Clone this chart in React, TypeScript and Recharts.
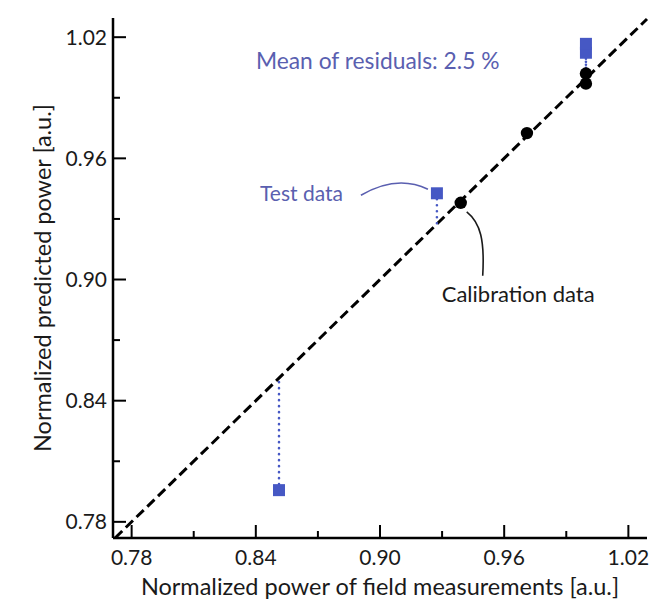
import React from 'react';
import { ScatterChart, Scatter, XAxis, YAxis, ReferenceLine } from 'recharts';

// ---- data ----
const tickValues = [0.78, 0.81, 0.84, 0.87, 0.9, 0.93, 0.96, 0.99, 1.02];
const xDomain = [0.771, 1.029];
const yDomain = [0.772, 1.0295];
const identityRange = [0.772, 1.029];

const calibrationX = [0.939, 0.971, 0.9995, 0.9995];
const calibrationY = [0.938, 0.9725, 0.997, 1.002];

const testX = [0.9275, 0.8512, 0.9995, 0.9995];
const testY = [0.9427, 0.7957, 1.0123, 1.0167];

const xLabel = 'Normalized power of field measurements [a.u.]';
const yLabel = 'Normalized predicted power [a.u.]';
const meanLabel = 'Mean of residuals: 2.5 %';
const testLabel = 'Test data';
const calibLabel = 'Calibration data';

// ---- derived ----
const calibration = calibrationX.map((x, i) => ({ x, y: calibrationY[i] }));
const test = testX.map((x, i) => ({ x, y: testY[i] }));

const FONT = 'Lato, "Open Sans", sans-serif';
const BLUE = '#4658c4';
const BLUE_TEXT = '#5a5fb0';
const INK = '#1a1a1a';

const isMajor = (v: number) => Math.round((v - 0.78) / 0.03) % 2 === 0;
const MAJOR = 13;
const MINOR = 7;

const BottomTick = (p: any) => {
  const v = p.payload.value;
  const major = isMajor(v);
  return (
    <g>
      <line x1={p.x} y1={p.y} x2={p.x} y2={p.y - (major ? MAJOR : MINOR)} stroke="#000" strokeWidth={2} />
      {major && (
        <text x={p.x} y={p.y + 27} textAnchor="middle" fontSize={21} fontFamily={FONT} fill={INK}>
          {v.toFixed(2)}
        </text>
      )}
    </g>
  );
};
const TopTick = (p: any) => {
  const v = p.payload.value;
  const major = isMajor(v);
  return <line x1={p.x} y1={p.y} x2={p.x} y2={p.y + (major ? MAJOR : MINOR)} stroke="#000" strokeWidth={2} />;
};
const LeftTick = (p: any) => {
  const v = p.payload.value;
  const major = isMajor(v);
  return (
    <g>
      <line x1={p.x} y1={p.y} x2={p.x + (major ? MAJOR : MINOR)} y2={p.y} stroke="#000" strokeWidth={2} />
      {major && (
        <text x={p.x - 6} y={p.y + 7.5} textAnchor="end" fontSize={21} fontFamily={FONT} fill={INK}>
          {v.toFixed(2)}
        </text>
      )}
    </g>
  );
};
const RightTick = (p: any) => {
  const v = p.payload.value;
  const major = isMajor(v);
  return <line x1={p.x} y1={p.y} x2={p.x - (major ? MAJOR : MINOR)} y2={p.y} stroke="#000" strokeWidth={2} />;
};

const XLabelContent = (p: any) => {
  const vb = p.viewBox || { x: 113, y: 538, width: 534, height: 65 };
  return (
    <text x={vb.x + vb.width / 2} y={vb.y + 57} textAnchor="middle" fontSize={23.5} fontFamily={FONT} fill={INK}>
      {xLabel}
    </text>
  );
};
const YLabelContent = (p: any) => {
  const vb = p.viewBox || { x: 0, y: 18, width: 113, height: 520 };
  const cx = vb.x + 42;
  const cy = vb.y + vb.height / 2;
  return (
    <text
      x={cx}
      y={cy}
      transform={`rotate(-90, ${cx}, ${cy})`}
      textAnchor="middle"
      dominantBaseline="central"
      fontSize={23.5}
      fontFamily={FONT}
      fill={INK}
    >
      {yLabel}
    </text>
  );
};

const CircleShape = (p: any) => <circle cx={p.cx} cy={p.cy} r={6.2} fill="#000" />;
const SquareShape = (p: any) => <rect x={p.cx - 6} y={p.cy - 6} width={12} height={12} fill={BLUE} />;

const TestNote = (p: any) => (
  <g>
    <path
      d={`M ${p.cx - 76} ${p.cy + 2} Q ${p.cx - 40} ${p.cy - 19} ${p.cx - 9} ${p.cy - 4}`}
      stroke={BLUE_TEXT}
      strokeWidth={1.6}
      fill="none"
    />
    <text x={p.cx - 94} y={p.cy + 7.5} textAnchor="end" fontSize={21} fontFamily={FONT} fill={BLUE_TEXT}>
      {testLabel}
    </text>
  </g>
);
const CalibNote = (p: any) => (
  <g>
    <path
      d={`M ${p.cx + 6} ${p.cy + 9} C ${p.cx + 20} ${p.cy + 20}, ${p.cx + 24} ${p.cy + 38}, ${p.cx + 22} ${p.cy + 73}`}
      stroke={INK}
      strokeWidth={1.6}
      fill="none"
    />
    <text x={p.cx - 19} y={p.cy + 99} textAnchor="start" fontSize={22} fontFamily={FONT} fill={INK}>
      {calibLabel}
    </text>
  </g>
);
const MeanNote = (p: any) => (
  <text x={p.cx - 330} y={p.cy + 25.5} textAnchor="start" fontSize={22.8} fontFamily={FONT} fill={BLUE_TEXT}>
    {meanLabel}
  </text>
);

export default function App() {
  return (
    <div style={{ width: 650, height: 603, background: '#fff', overflow: 'hidden' }}>
      <style>{'html, body { margin: 0; padding: 0; overflow: hidden; background: #fff; }'}</style>
      <ScatterChart width={650} height={603} margin={{ top: 18, right: 3, bottom: 0, left: 0 }}>
        <XAxis
          dataKey="x"
          type="number"
          domain={xDomain}
          allowDataOverflow
          ticks={tickValues}
          interval={0}
          height={65}
          tickSize={0}
          tickMargin={0}
          tickLine={false}
          axisLine={{ stroke: '#000', strokeWidth: 2.5 }}
          tick={BottomTick}
          label={{ content: XLabelContent }}
        />
        <XAxis
          xAxisId="top"
          orientation="top"
          dataKey="x"
          type="number"
          domain={xDomain}
          allowDataOverflow
          ticks={tickValues}
          interval={0}
          height={0}
          tickSize={0}
          tickMargin={0}
          tickLine={false}
          axisLine={{ stroke: '#000', strokeWidth: 2.5 }}
          tick={TopTick}
        />
        <YAxis
          dataKey="y"
          type="number"
          domain={yDomain}
          allowDataOverflow
          ticks={tickValues}
          interval={0}
          width={113}
          tickSize={0}
          tickMargin={0}
          tickLine={false}
          axisLine={{ stroke: '#000', strokeWidth: 2.5 }}
          tick={LeftTick}
          label={{ content: YLabelContent }}
        />
        <YAxis
          yAxisId="right"
          orientation="right"
          dataKey="y"
          type="number"
          domain={yDomain}
          allowDataOverflow
          ticks={tickValues}
          interval={0}
          width={0}
          tickSize={0}
          tickMargin={0}
          tickLine={false}
          axisLine={{ stroke: '#000', strokeWidth: 2.5 }}
          tick={RightTick}
        />
        <ReferenceLine
          segment={[
            { x: identityRange[0], y: identityRange[0] },
            { x: identityRange[1], y: identityRange[1] },
          ]}
          stroke="#000"
          strokeWidth={3}
          strokeDasharray="10 5"
        />
        {test.map((d, i) => (
          <ReferenceLine
            key={'res' + i}
            segment={[
              { x: d.x, y: d.y },
              { x: d.x, y: d.x },
            ]}
            stroke={BLUE}
            strokeWidth={2.6}
            strokeLinecap="round"
            strokeDasharray="0 6"
          />
        ))}
        <Scatter data={calibration} shape={CircleShape} isAnimationActive={false} />
        <Scatter data={test} shape={SquareShape} isAnimationActive={false} />
        <Scatter data={[test[0]]} shape={TestNote} isAnimationActive={false} />
        <Scatter data={[calibration[0]]} shape={CalibNote} isAnimationActive={false} />
        <Scatter data={[test[3]]} shape={MeanNote} isAnimationActive={false} />
      </ScatterChart>
    </div>
  );
}
